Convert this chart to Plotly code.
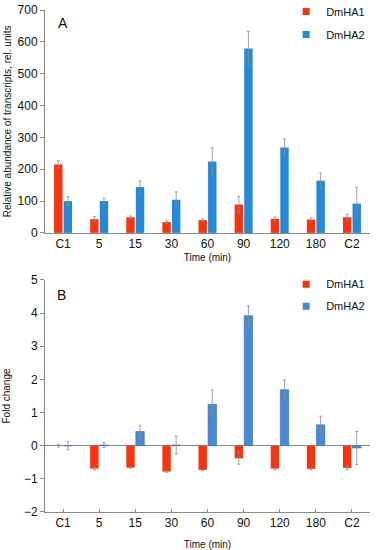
import plotly.graph_objects as go

categories = ["C1", "5", "15", "30", "60", "90", "120", "180", "C2"]

# Panel A: relative abundance
a_ha1 = [215, 43, 49, 34, 40, 89, 44, 42, 49]
a_ha1_err = [12, 8, 4, 4, 4, 25, 6, 5, 10]
a_ha2 = [100, 100, 144, 104, 224, 579, 268, 164, 92]
a_ha2_err = [14, 9, 19, 25, 43, 54, 27, 24, 51]

# Panel B: fold change
b_ha1 = [0.0, -0.69, -0.66, -0.78, -0.73, -0.38, -0.69, -0.70, -0.67]
b_ha1_err = [0.04, 0.04, 0.02, 0.02, 0.02, 0.18, 0.04, 0.03, 0.06]
b_ha2 = [0.0, 0.02, 0.43, 0.02, 1.25, 3.92, 1.69, 0.63, -0.07]
b_ha2_err = [0.12, 0.07, 0.19, 0.27, 0.43, 0.30, 0.29, 0.26, 0.50]

RED = "#F8340E"
BLUE_A = "#2589D8"
BLUE_B = "#4A88D4"
GRID = "#8a8a8a"
FONT = "Liberation Sans, Arial, sans-serif"

err_style = dict(type="data", visible=True, color="#8c8c8c", thickness=0.8, width=1.5)

fig = go.Figure()

fig.add_trace(go.Bar(x=categories, y=a_ha1, name="DmHA1", marker=dict(color=RED, line=dict(width=0)),
                     error_y=dict(array=a_ha1_err, **err_style), xaxis="x", yaxis="y", showlegend=False))
fig.add_trace(go.Bar(x=categories, y=a_ha2, name="DmHA2", marker=dict(color=BLUE_A, line=dict(width=0)),
                     error_y=dict(array=a_ha2_err, **err_style), xaxis="x", yaxis="y", showlegend=False))
fig.add_trace(go.Bar(x=categories, y=b_ha1, name="DmHA1", marker=dict(color=RED, line=dict(width=0)),
                     error_y=dict(array=b_ha1_err, **err_style), xaxis="x2", yaxis="y2", showlegend=False))
fig.add_trace(go.Bar(x=categories, y=b_ha2, name="DmHA2", marker=dict(color=BLUE_B, line=dict(width=0.6, color="#2f6db5")),
                     error_y=dict(array=b_ha2_err, **err_style), xaxis="x2", yaxis="y2", showlegend=False))

# legend entries
for i, (nm, col, leg) in enumerate([("DmHA1", RED, "legend"), ("DmHA2", BLUE_A, "legend"),
                                    ("DmHA1", RED, "legend2"), ("DmHA2", BLUE_B, "legend2")]):
    fig.add_trace(go.Scatter(x=[None], y=[None], mode="markers", name=nm,
                             marker=dict(symbol="square", size=7, color=col),
                             xaxis="x" if leg == "legend" else "x2",
                             yaxis="y" if leg == "legend" else "y2",
                             legend=leg, legendgroup=f"g{i}", showlegend=True))

axis_common = dict(showline=True, linecolor=GRID, linewidth=1, showgrid=False, automargin=False,
                   ticklabeloverflow="allow",
                   tickfont=dict(family=FONT, size=12, color="#111"))

fig.update_layout(
    width=379, height=550,
    margin=dict(l=45, r=9, t=10, b=38, autoexpand=False),
    paper_bgcolor="white", plot_bgcolor="white",
    barmode="group", bargap=0.47, bargroupgap=0.12,
    font=dict(family=FONT, color="#111"),
    xaxis=dict(domain=[0, 1], anchor="y", type="category", ticks="", **axis_common,
               title=dict(text="Time (min)", font=dict(size=10, family=FONT), standoff=3)),
    yaxis=dict(domain=[0.556, 1.0], anchor="x", range=[0, 700], dtick=100, ticks="outside",
               ticklen=4, tickcolor=GRID, zeroline=False, **axis_common,
               title=dict(text="Relative abundance of transcripts, rel. units",
                          font=dict(size=10, family=FONT), standoff=4)),
    xaxis2=dict(domain=[0, 1], anchor="y2", type="category", ticks="inside", ticklen=3,
                tickcolor=GRID, **axis_common,
                title=dict(text="Time (min)", font=dict(size=10, family=FONT), standoff=12)),
    yaxis2=dict(domain=[0, 0.4622], anchor="x2", range=[-2, 5], dtick=1, ticks="outside",
                ticklen=4, tickcolor=GRID, zeroline=True, zerolinecolor=GRID, zerolinewidth=1,
                **axis_common,
                title=dict(text="Fold change", font=dict(size=10, family=FONT), standoff=11)),
    legend=dict(x=0.742, y=0.974, xanchor="left", yanchor="middle", bgcolor="rgba(0,0,0,0)",
                font=dict(size=11, family=FONT), itemwidth=30, tracegroupgap=4),
    legend2=dict(x=0.742, y=0.432, xanchor="left", yanchor="middle", bgcolor="rgba(0,0,0,0)",
                 font=dict(size=11, family=FONT), itemwidth=30, tracegroupgap=3),
    annotations=[
        dict(text="A", x=0.055, y=0.975, xref="paper", yref="paper", showarrow=False,
             font=dict(size=14, family=FONT), xanchor="center", yanchor="middle"),
        dict(text="B", x=0.052, y=0.432, xref="paper", yref="paper", showarrow=False,
             font=dict(size=14, family=FONT), xanchor="center", yanchor="middle"),
    ],
)

fig.write_html("out.html", config={"displayModeBar": False},
               post_script="document.body.style.margin='0';")
